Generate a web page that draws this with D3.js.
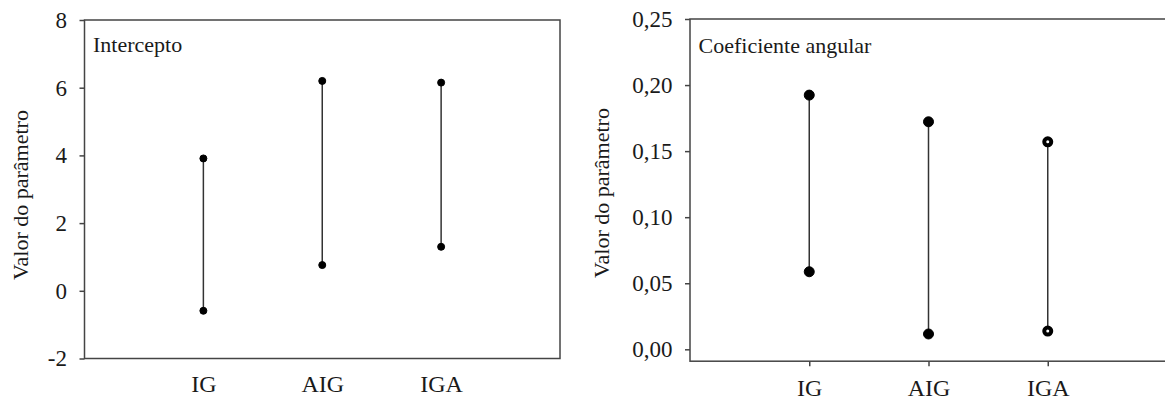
<!DOCTYPE html>
<html>
<head>
<meta charset="utf-8">
<script src="https://cdn.jsdelivr.net/npm/d3@7"></script>
<style>
  body { margin: 0; background: #fff; }
  svg { display: block; }
  svg text { font-family: "Liberation Serif", serif !important; }
</style>
</head>
<body>
<div id="chart"></div>
<script>
// categories and confidence-interval ends
const categories = ["IG", "AIG", "IGA"];
const interceptLower = [-0.59, 0.76, 1.3];
const interceptUpper = [3.91, 6.2, 6.15];
const slopeLower = [0.0587, 0.0116, 0.0138];
const slopeUpper = [0.1924, 0.1722, 0.157];
const interceptTicks = [-2, 0, 2, 4, 6, 8];
const slopeTicks = [0, 0.05, 0.1, 0.15, 0.2, 0.25];

const svg = d3.select("#chart")
  .append("svg")
  .attr("width", 1165)
  .attr("height", 403)
  .attr("font-family", "Liberation Serif");

function styleAxis(sel, size) {
  sel.attr("font-family", "Liberation Serif").attr("font-size", size);
  sel.selectAll("line").attr("stroke", "#444").attr("stroke-width", 1.5);
  sel.selectAll("text")
    .attr("font-family", "Liberation Serif")
    .attr("font-size", size)
    .attr("fill", "#1a1a1a");
}

function drawPanel(opt) {
  var x = d3.scaleLinear().domain([0, 4]).range(opt.xRange);
  var y = d3.scaleLinear().domain(opt.yDomain).range(opt.yRange);

  var g = svg.append("g");

  // frame
  g.append("rect")
    .attr("x", opt.xRange[0])
    .attr("y", opt.yRange[1])
    .attr("width", opt.xRange[1] - opt.xRange[0])
    .attr("height", opt.yRange[0] - opt.yRange[1])
    .attr("fill", "none")
    .attr("stroke", "#444")
    .attr("stroke-width", 1.5);

  // y axis
  var yAxis = g.append("g")
    .attr("transform", `translate(${opt.xRange[0]},0)`)
    .call(
      d3.axisLeft(y)
        .tickValues(opt.ticks)
        .tickFormat(opt.format)
        .tickSize(5)
        .tickSizeOuter(0)
        .tickPadding(12.5)
    );
  yAxis.select(".domain").remove();
  styleAxis(yAxis, 23);

  // x axis
  var xAxis = g.append("g")
    .attr("transform", `translate(0,${opt.yRange[0]})`)
    .call(
      d3.axisBottom(x)
        .tickValues([1, 2, 3])
        .tickFormat((d) => categories[d - 1])
        .tickSize(opt.xTick)
        .tickSizeOuter(0)
    );
  xAxis.select(".domain").remove();
  styleAxis(xAxis, 24);
  xAxis.selectAll("text")
    .attr("y", opt.xLabelY)
    .attr("dy", 0);

  // y title
  g.append("text")
    .attr("transform", `translate(${opt.titleX},${opt.titleY}) rotate(-90)`)
    .attr("text-anchor", "middle")
    .attr("font-size", 22)
    .attr("fill", "#1a1a1a")
    .text("Valor do parâmetro");

  // panel label
  g.append("text")
    .attr("x", opt.xRange[0] + 8.5)
    .attr("y", opt.labelY)
    .attr("font-size", 22)
    .attr("fill", "#1a1a1a")
    .text(opt.label);

  // whiskers
  g.selectAll(".whisker")
    .data(categories)
    .enter()
    .append("line")
    .attr("class", "whisker")
    .attr("x1", (d, i) => x(i + 1))
    .attr("x2", (d, i) => x(i + 1))
    .attr("y1", (d, i) => y(opt.lower[i]))
    .attr("y2", (d, i) => y(opt.upper[i]))
    .attr("stroke", "#333")
    .attr("stroke-width", 1.5);

  // end points
  var pts = [];
  categories.forEach((c, i) => {
    pts.push({ i: i, v: opt.lower[i] });
    pts.push({ i: i, v: opt.upper[i] });
  });

  g.selectAll(".dot")
    .data(pts)
    .enter()
    .append("circle")
    .attr("class", "dot")
    .attr("cx", (d) => x(d.i + 1))
    .attr("cy", (d) => y(d.v))
    .attr("r", (d) => opt.dotR(d))
    .attr("fill", (d) => opt.dotFill(d))
    .attr("stroke", "#000")
    .attr("stroke-width", (d) => opt.dotStroke(d));
}

// LEFT: Intercepto
drawPanel({
  xRange: [84.5, 560],
  yRange: [358.5, 20],
  yDomain: [-2, 8],
  ticks: interceptTicks,
  format: (d) => String(d),
  lower: interceptLower,
  upper: interceptUpper,
  xTick: 0,
  xLabelY: 33,
  titleX: 28,
  titleY: 195,
  label: "Intercepto",
  labelY: 52,
  dotR: () => 3.5,
  dotFill: () => "#000",
  dotStroke: () => 1,
});

// RIGHT: Coeficiente angular
drawPanel({
  xRange: [690, 1167],
  yRange: [361.2, 19],
  yDomain: [-0.009, 0.25],
  ticks: slopeTicks,
  format: (d) => d.toFixed(2).replace(".", ","),
  lower: slopeLower,
  upper: slopeUpper,
  xTick: 5,
  xLabelY: 35,
  titleX: 609,
  titleY: 193,
  label: "Coeficiente angular",
  labelY: 53,
  dotR: (d) => (d.i === 2 ? 3.5 : 5),
  dotFill: (d) => (d.i === 2 ? "#fff" : "#000"),
  dotStroke: (d) => (d.i === 2 ? 4 : 1),
});
</script>
</body>
</html>
